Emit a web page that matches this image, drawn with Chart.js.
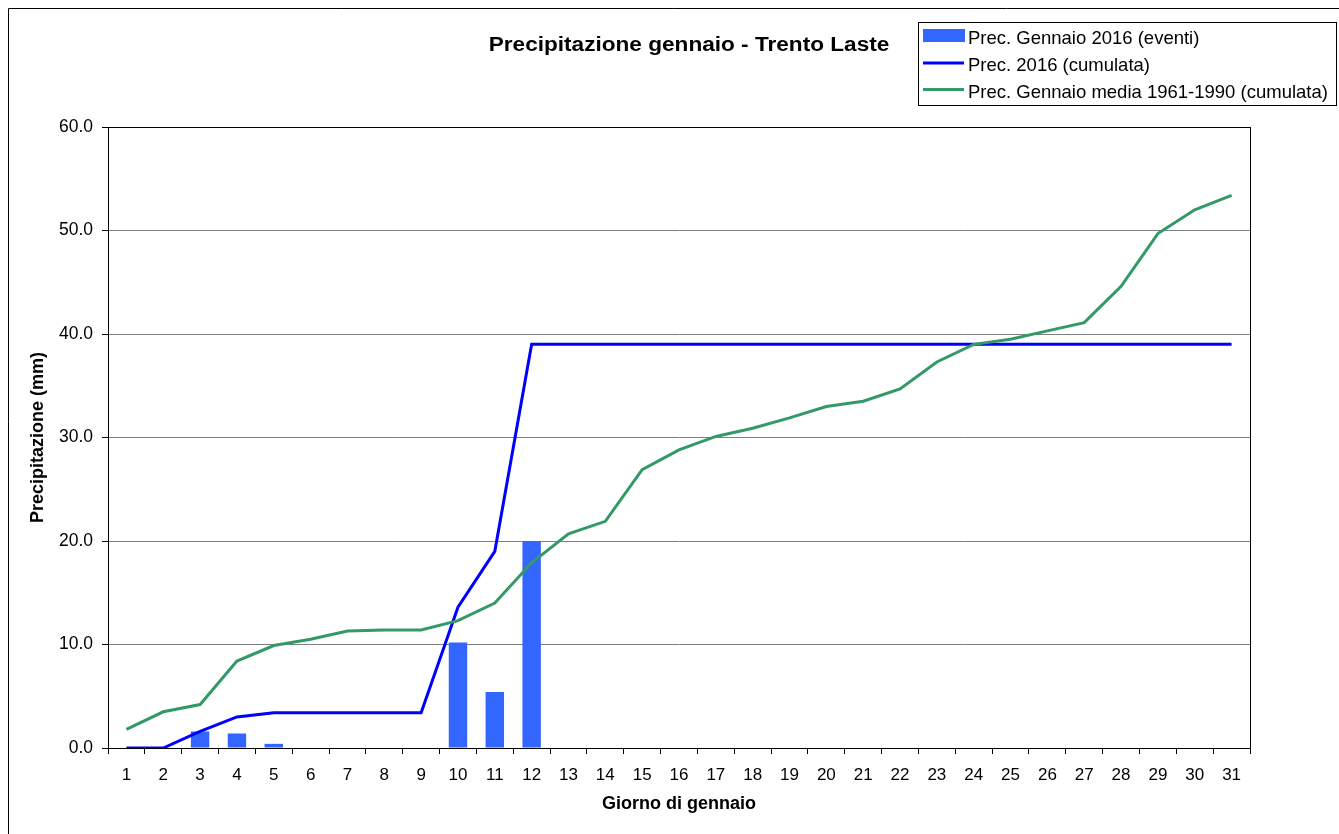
<!DOCTYPE html>
<html>
<head>
<meta charset="utf-8">
<script src="https://cdn.jsdelivr.net/npm/chart.js@4"></script>
<style>
  body { margin: 0; background: #fff; }
  #wrap { width: 1339px; height: 834px; }
</style>
</head>
<body>
<div id="wrap"><canvas id="precChart"></canvas></div>
<script>
// giorni di gennaio
var giorni = [];
for (var g = 1; g <= 31; g++) giorni.push(String(g));

// precipitazione giornaliera 2016 (mm)
var eventi2016 = [0, 0, 1.6, 1.4, 0.4, 0, 0, 0, 0, 10.2, 5.4, 20.0, 0, 0, 0, 0, 0, 0, 0, 0, 0, 0, 0, 0, 0, 0, 0, 0, 0, 0, 0];

// cumulata 2016
var cumulata2016 = [0, 0, 1.6, 3.0, 3.4, 3.4, 3.4, 3.4, 3.4, 13.6, 19.0, 39.0, 39.0, 39.0, 39.0, 39.0, 39.0, 39.0, 39.0, 39.0,
  39.0, 39.0, 39.0, 39.0, 39.0, 39.0, 39.0, 39.0, 39.0, 39.0, 39.0];

// media 1961-1990 cumulata
var mediaCumulata = [1.8, 3.5, 4.2, 8.4, 9.9, 10.5, 11.3, 11.4, 11.4, 12.3, 14.0, 17.9, 20.7, 21.9, 26.9, 28.8, 30.1, 30.9, 31.9, 33.0,
  33.5, 34.7, 37.3, 39.0, 39.5, 40.3, 41.1, 44.6, 49.7, 52.0, 53.4];

var yTicks = [0, 10, 20, 30, 40, 50, 60];

var FONT = "'Liberation Sans', Arial, sans-serif";

// cornice, titolo e legenda
var decorPlugin = {
  id: 'decor',
  afterDraw: function (chart) {
    var ctx = chart.ctx;
    var a = chart.chartArea;
    ctx.save();
    // cornice esterna
    ctx.strokeStyle = '#000';
    ctx.lineWidth = 1;
    ctx.beginPath();
    ctx.moveTo(8.5, 834);
    ctx.lineTo(8.5, 8.5);
    ctx.lineTo(1339, 8.5);
    ctx.stroke();
    // bordo area grafico
    ctx.strokeRect(Math.round(a.left) + 0.5, Math.round(a.top) + 0.5, Math.round(a.right - a.left), Math.round(a.bottom - a.top));

    // titolo (leggermente allargato come nell'originale)
    ctx.save();
    ctx.fillStyle = '#000';
    ctx.font = 'bold 20px ' + FONT;
    ctx.textAlign = 'center';
    ctx.textBaseline = 'middle';
    ctx.translate(689, 45);
    ctx.scale(1.13, 1);
    ctx.fillText('Precipitazione gennaio - Trento Laste', 0, 0);
    ctx.restore();

    // legenda
    ctx.fillStyle = '#fff';
    ctx.fillRect(918.5, 22.5, 418, 83);
    ctx.strokeStyle = '#000';
    ctx.strokeRect(918.5, 22.5, 418, 83);
    var lineY = [35.5, 63, 89.5];
    var textY = [38.5, 66, 92.5];
    ctx.font = '18.5px ' + FONT;
    ctx.textAlign = 'left';
    ctx.textBaseline = 'middle';
    chart.data.datasets.forEach(function (ds, i) {
      if (ds.type === 'bar') {
        ctx.fillStyle = ds.backgroundColor;
        ctx.fillRect(923, 29, 42, 13);
      } else {
        ctx.strokeStyle = ds.borderColor;
        ctx.lineWidth = 3;
        ctx.beginPath();
        ctx.moveTo(923, lineY[i]);
        ctx.lineTo(964, lineY[i]);
        ctx.stroke();
      }
      ctx.fillStyle = '#000';
      ctx.fillText(ds.label, 968, textY[i]);
    });
    ctx.restore();
  }
};

var ctxChart = document.getElementById('precChart').getContext('2d');
var myChart = new Chart(ctxChart, {
  data: {
    labels: giorni,
    datasets: [
      {
        type: 'bar',
        label: 'Prec. Gennaio 2016 (eventi)',
        data: eventi2016,
        backgroundColor: '#3366FF',
        barPercentage: 0.5,
        categoryPercentage: 1.0,
        order: 3
      },
      {
        type: 'line',
        label: 'Prec. 2016 (cumulata)',
        data: cumulata2016,
        borderColor: '#0000FF',
        borderWidth: 3,
        pointRadius: 0,
        tension: 0,
        order: 2
      },
      {
        type: 'line',
        label: 'Prec. Gennaio media 1961-1990 (cumulata)',
        data: mediaCumulata,
        borderColor: '#339966',
        borderWidth: 3,
        pointRadius: 0,
        tension: 0,
        order: 1
      }
    ]
  },
  options: {
    responsive: true,
    maintainAspectRatio: false,
    animation: false,
    layout: { padding: { top: 127, right: 89, left: 27, bottom: 19 } },
    plugins: {
      legend: { display: false },
      title: { display: false },
      tooltip: { enabled: false }
    },
    scales: {
      x: {
        offset: true,
        grid: { drawOnChartArea: false, offset: true, color: '#000', tickLength: 6 },
        border: { color: '#000' },
        ticks: { color: '#000', font: { family: FONT, size: 17 }, padding: 11, maxRotation: 0, autoSkip: false },
        title: { display: true, text: 'Giorno di gennaio', color: '#000', font: { family: FONT, size: 18, weight: 'bold' }, padding: 0 },
        afterFit: function (scale) { scale.height = 834 - 19 - 748; }
      },
      y: {
        min: 0,
        max: 60,
        afterBuildTicks: function (scale) {
          scale.ticks = yTicks.map(function (v) { return { value: v }; });
        },
        grid: { color: '#808080', tickColor: '#000', tickLength: 6 },
        border: { color: '#000' },
        ticks: {
          color: '#000',
          font: { family: FONT, size: 17.5 },
          padding: 9,
          callback: function (v) { return Number(v).toFixed(1); }
        },
        title: { display: true, text: 'Precipitazione (mm)', color: '#000', font: { family: FONT, size: 18, weight: 'bold' }, padding: 0 },
        afterFit: function (scale) { scale.width = 108 - 27; }
      }
    }
  },
  plugins: [decorPlugin]
});
</script>
</body>
</html>
